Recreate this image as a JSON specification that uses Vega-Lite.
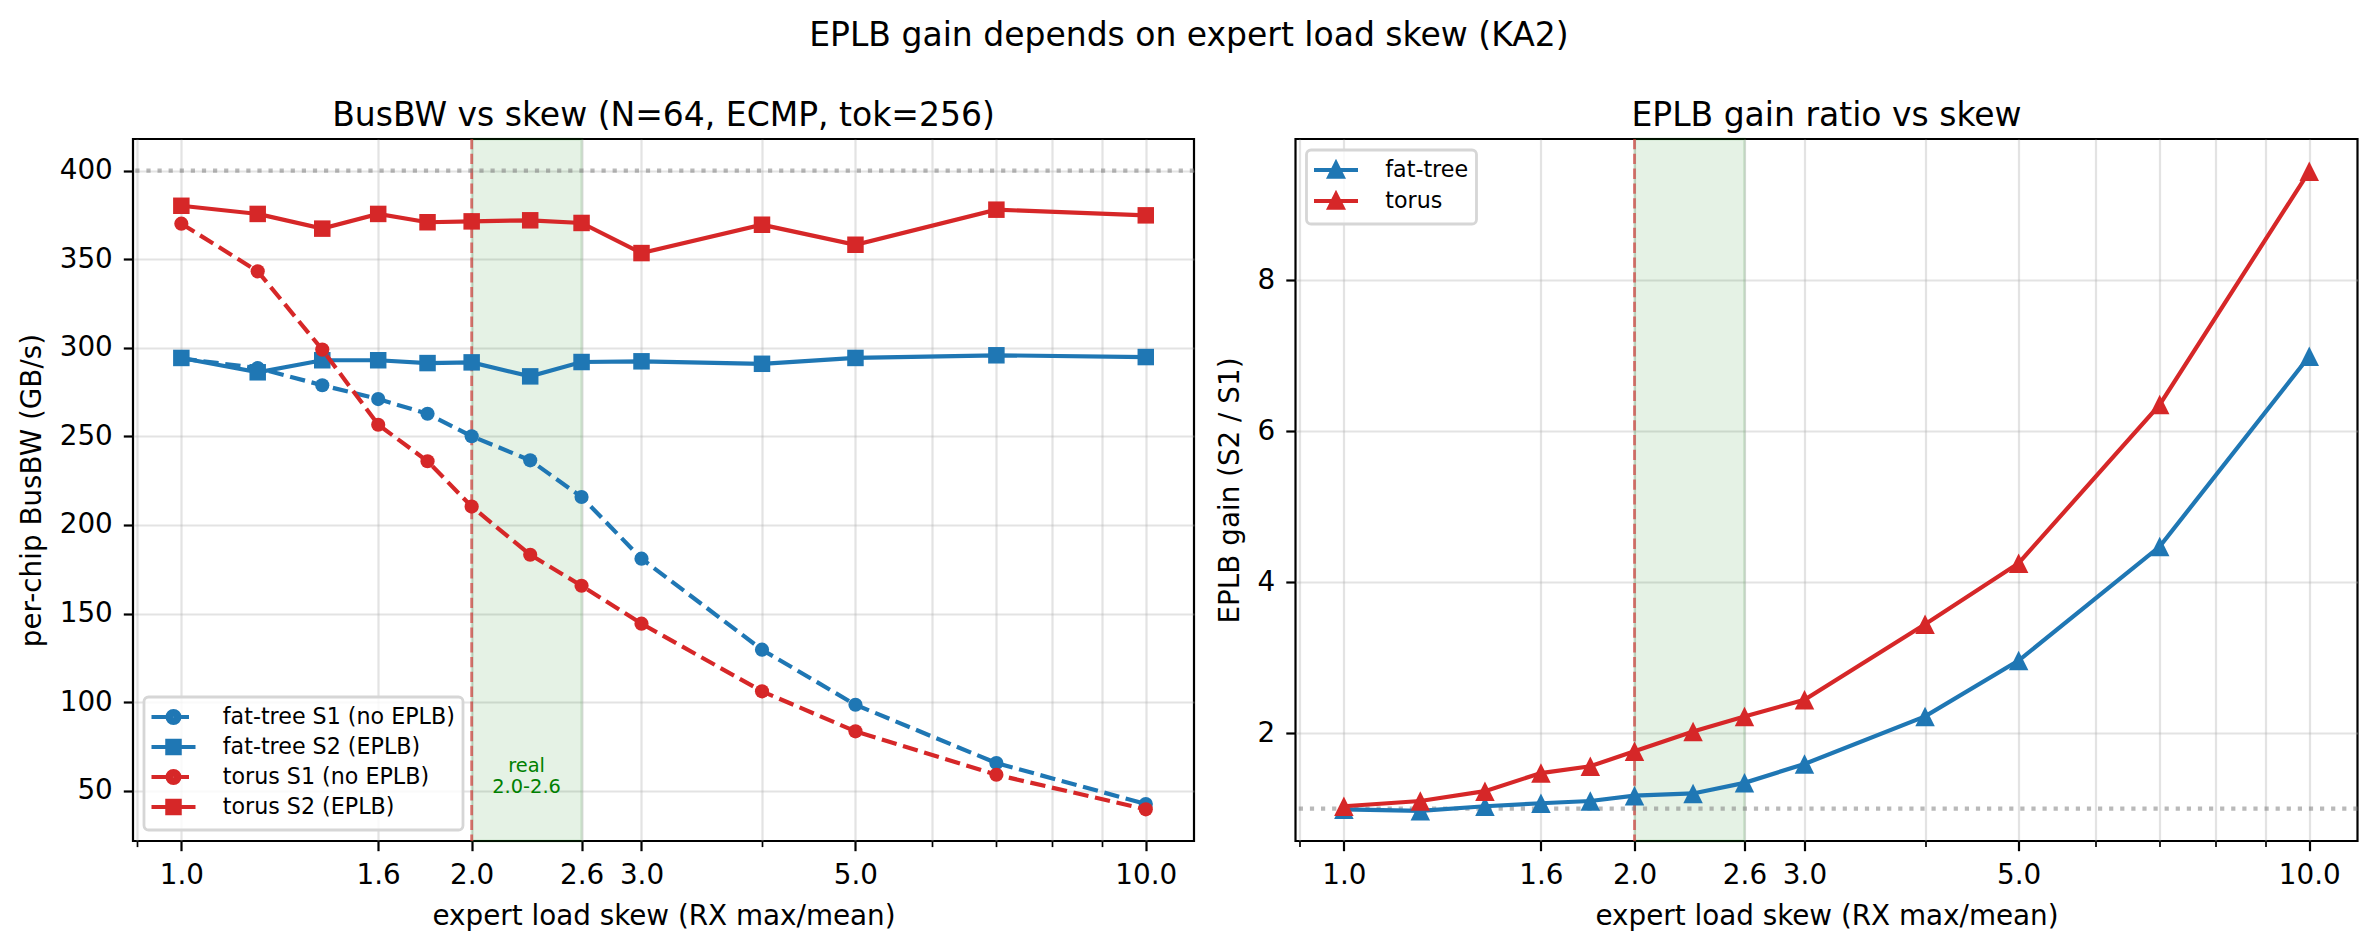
{
  "$schema": "https://vega.github.io/schema/vega-lite/v6.json",
  "padding": {"left": 17, "top": 20, "right": 0, "bottom": 0},
  "title": {"text": "EPLB gain depends on expert load skew (KA2)", "fontSize": 33, "offset": 45.5, "anchor": "middle"},
  "datasets": {
    "bw": [
      {"skew": 1.0, "series": "fat-tree S1 (no EPLB)", "bw": 294.0},
      {"skew": 1.2, "series": "fat-tree S1 (no EPLB)", "bw": 288.6},
      {"skew": 1.4, "series": "fat-tree S1 (no EPLB)", "bw": 278.9},
      {"skew": 1.6, "series": "fat-tree S1 (no EPLB)", "bw": 271.1},
      {"skew": 1.8, "series": "fat-tree S1 (no EPLB)", "bw": 262.8},
      {"skew": 2.0, "series": "fat-tree S1 (no EPLB)", "bw": 250.1},
      {"skew": 2.3, "series": "fat-tree S1 (no EPLB)", "bw": 236.5},
      {"skew": 2.6, "series": "fat-tree S1 (no EPLB)", "bw": 215.8},
      {"skew": 3.0, "series": "fat-tree S1 (no EPLB)", "bw": 181.0},
      {"skew": 4.0, "series": "fat-tree S1 (no EPLB)", "bw": 129.6},
      {"skew": 5.0, "series": "fat-tree S1 (no EPLB)", "bw": 98.5},
      {"skew": 7.0, "series": "fat-tree S1 (no EPLB)", "bw": 65.6},
      {"skew": 10.0, "series": "fat-tree S1 (no EPLB)", "bw": 42.5},
      {"skew": 1.0, "series": "fat-tree S2 (EPLB)", "bw": 294.3},
      {"skew": 1.2, "series": "fat-tree S2 (EPLB)", "bw": 286.2},
      {"skew": 1.4, "series": "fat-tree S2 (EPLB)", "bw": 293.0},
      {"skew": 1.6, "series": "fat-tree S2 (EPLB)", "bw": 293.0},
      {"skew": 1.8, "series": "fat-tree S2 (EPLB)", "bw": 291.4},
      {"skew": 2.0, "series": "fat-tree S2 (EPLB)", "bw": 291.8},
      {"skew": 2.3, "series": "fat-tree S2 (EPLB)", "bw": 283.9},
      {"skew": 2.6, "series": "fat-tree S2 (EPLB)", "bw": 292.0},
      {"skew": 3.0, "series": "fat-tree S2 (EPLB)", "bw": 292.4},
      {"skew": 4.0, "series": "fat-tree S2 (EPLB)", "bw": 291.0},
      {"skew": 5.0, "series": "fat-tree S2 (EPLB)", "bw": 294.3},
      {"skew": 7.0, "series": "fat-tree S2 (EPLB)", "bw": 295.8},
      {"skew": 10.0, "series": "fat-tree S2 (EPLB)", "bw": 294.8},
      {"skew": 1.0, "series": "torus S1 (no EPLB)", "bw": 370.1},
      {"skew": 1.2, "series": "torus S1 (no EPLB)", "bw": 343.2},
      {"skew": 1.4, "series": "torus S1 (no EPLB)", "bw": 299.0},
      {"skew": 1.6, "series": "torus S1 (no EPLB)", "bw": 256.6},
      {"skew": 1.8, "series": "torus S1 (no EPLB)", "bw": 236.0},
      {"skew": 2.0, "series": "torus S1 (no EPLB)", "bw": 210.4},
      {"skew": 2.3, "series": "torus S1 (no EPLB)", "bw": 183.2},
      {"skew": 2.6, "series": "torus S1 (no EPLB)", "bw": 165.7},
      {"skew": 3.0, "series": "torus S1 (no EPLB)", "bw": 144.3},
      {"skew": 4.0, "series": "torus S1 (no EPLB)", "bw": 106.1},
      {"skew": 5.0, "series": "torus S1 (no EPLB)", "bw": 83.5},
      {"skew": 7.0, "series": "torus S1 (no EPLB)", "bw": 59.0},
      {"skew": 10.0, "series": "torus S1 (no EPLB)", "bw": 39.5},
      {"skew": 1.0, "series": "torus S2 (EPLB)", "bw": 380.2},
      {"skew": 1.2, "series": "torus S2 (EPLB)", "bw": 375.6},
      {"skew": 1.4, "series": "torus S2 (EPLB)", "bw": 367.3},
      {"skew": 1.6, "series": "torus S2 (EPLB)", "bw": 375.6},
      {"skew": 1.8, "series": "torus S2 (EPLB)", "bw": 370.9},
      {"skew": 2.0, "series": "torus S2 (EPLB)", "bw": 371.4},
      {"skew": 2.3, "series": "torus S2 (EPLB)", "bw": 372.0},
      {"skew": 2.6, "series": "torus S2 (EPLB)", "bw": 370.5},
      {"skew": 3.0, "series": "torus S2 (EPLB)", "bw": 353.5},
      {"skew": 4.0, "series": "torus S2 (EPLB)", "bw": 369.5},
      {"skew": 5.0, "series": "torus S2 (EPLB)", "bw": 358.2},
      {"skew": 7.0, "series": "torus S2 (EPLB)", "bw": 378.0},
      {"skew": 10.0, "series": "torus S2 (EPLB)", "bw": 374.8}
    ],
    "gain": [
      {"skew": 1.0, "topo": "fat-tree", "gain": 0.99},
      {"skew": 1.2, "topo": "fat-tree", "gain": 0.97},
      {"skew": 1.4, "topo": "fat-tree", "gain": 1.03},
      {"skew": 1.6, "topo": "fat-tree", "gain": 1.07},
      {"skew": 1.8, "topo": "fat-tree", "gain": 1.10},
      {"skew": 2.0, "topo": "fat-tree", "gain": 1.17},
      {"skew": 2.3, "topo": "fat-tree", "gain": 1.20},
      {"skew": 2.6, "topo": "fat-tree", "gain": 1.34},
      {"skew": 3.0, "topo": "fat-tree", "gain": 1.59},
      {"skew": 4.0, "topo": "fat-tree", "gain": 2.22},
      {"skew": 5.0, "topo": "fat-tree", "gain": 2.96},
      {"skew": 7.0, "topo": "fat-tree", "gain": 4.47},
      {"skew": 10.0, "topo": "fat-tree", "gain": 6.99},
      {"skew": 1.0, "topo": "torus", "gain": 1.03},
      {"skew": 1.2, "topo": "torus", "gain": 1.10},
      {"skew": 1.4, "topo": "torus", "gain": 1.23},
      {"skew": 1.6, "topo": "torus", "gain": 1.47},
      {"skew": 1.8, "topo": "torus", "gain": 1.56},
      {"skew": 2.0, "topo": "torus", "gain": 1.76},
      {"skew": 2.3, "topo": "torus", "gain": 2.02},
      {"skew": 2.6, "topo": "torus", "gain": 2.22},
      {"skew": 3.0, "topo": "torus", "gain": 2.44},
      {"skew": 4.0, "topo": "torus", "gain": 3.44},
      {"skew": 5.0, "topo": "torus", "gain": 4.25},
      {"skew": 7.0, "topo": "torus", "gain": 6.35},
      {"skew": 10.0, "topo": "torus", "gain": 9.44}
    ]
  },
  "spacing": 16.5,
  "hconcat": [
    {
      "width": 1061,
      "height": 702,
      "title": {"text": "BusBW vs skew (N=64, ECMP, tok=256)", "fontSize": 33, "offset": 5, "frame": "group", "anchor": "middle"},
      "data": {"name": "bw"},
      "layer": [
        {
          "data": {"values": [{}]},
          "mark": {"type": "rect", "fill": "#008000", "fillOpacity": 0.1, "stroke": "#008000", "strokeOpacity": 0.1, "strokeWidth": 2.8},
          "encoding": {
            "x": {"datum": 2.0, "type": "quantitative", "scale": {"type": "log", "domain": [0.891, 11.22], "nice": false}},
            "x2": {"datum": 2.6}
          }
        },
        {
          "data": {"values": [{}]},
          "mark": {"type": "rule", "color": "#d62728", "opacity": 0.6, "strokeWidth": 2.8, "strokeDash": [10.3, 4.5]},
          "encoding": {
            "x": {"datum": 2.0, "type": "quantitative", "scale": {"type": "log", "domain": [0.891, 11.22], "nice": false}}
          }
        },
        {
          "data": {"values": [{}]},
          "mark": {"type": "rule", "color": "#808080", "opacity": 0.55, "strokeWidth": 4.2, "strokeDash": [4.2, 6.9]},
          "encoding": {
            "y": {"datum": 400, "type": "quantitative", "scale": {"domain": [21.6, 417.9], "nice": false, "zero": false}}
          }
        },
        {
          "transform": [{"filter": {"field": "series", "equal": "fat-tree S1 (no EPLB)"}}],
          "mark": {"type": "line", "color": "#1f77b4", "strokeWidth": 4.2, "strokeDash": [15.4, 6.7], "point": {"filled": true, "shape": "circle", "size": 201, "color": "#1f77b4"}},
          "encoding": {
            "x": {"field": "skew", "type": "quantitative", "scale": {"type": "log", "domain": [0.891, 11.22], "nice": false},
              "axis": {
                "title": "expert load skew (RX max/mean)",
                "values": [0.9, 1, 1.6, 2, 2.6, 3, 4, 5, 6, 7, 8, 9, 10],
                "labelExpr": "indexof([1,1.6,2,2.6,3,5,10], datum.value) >= 0 ? format(datum.value, '.1f') : ''",
                "tickSize": {"condition": {"test": "indexof([1,1.6,2,2.6,3,5,10], datum.value) < 0", "value": 5.6}, "value": 9.7},
                "tickWidth": {"condition": {"test": "indexof([1,1.6,2,2.6,3,5,10], datum.value) < 0", "value": 1.7}, "value": 2.2},
                "labelPadding": 11, "titlePadding": 12.5, "labelOverlap": false, "labelFlush": false, "labelBound": false
              }},
            "y": {"field": "bw", "type": "quantitative", "scale": {"domain": [21.6, 417.9], "nice": false, "zero": false},
              "axis": {"title": "per-chip BusBW (GB/s)", "values": [50, 100, 150, 200, 250, 300, 350, 400], "format": "d", "labelPadding": 11, "titlePadding": 13}}
          }
        },
        {
          "transform": [{"filter": {"field": "series", "equal": "fat-tree S2 (EPLB)"}}],
          "mark": {"type": "line", "color": "#1f77b4", "strokeWidth": 4.2, "point": {"filled": true, "shape": "square", "size": 272, "color": "#1f77b4"}},
          "encoding": {
            "x": {"field": "skew", "type": "quantitative", "scale": {"type": "log", "domain": [0.891, 11.22], "nice": false}},
            "y": {"field": "bw", "type": "quantitative", "scale": {"domain": [21.6, 417.9], "nice": false, "zero": false}}
          }
        },
        {
          "transform": [{"filter": {"field": "series", "equal": "torus S1 (no EPLB)"}}],
          "mark": {"type": "line", "color": "#d62728", "strokeWidth": 4.2, "strokeDash": [15.4, 6.7], "point": {"filled": true, "shape": "circle", "size": 201, "color": "#d62728"}},
          "encoding": {
            "x": {"field": "skew", "type": "quantitative", "scale": {"type": "log", "domain": [0.891, 11.22], "nice": false}},
            "y": {"field": "bw", "type": "quantitative", "scale": {"domain": [21.6, 417.9], "nice": false, "zero": false}}
          }
        },
        {
          "transform": [{"filter": {"field": "series", "equal": "torus S2 (EPLB)"}}],
          "mark": {"type": "line", "color": "#d62728", "strokeWidth": 4.2, "point": {"filled": true, "shape": "square", "size": 272, "color": "#d62728"}},
          "encoding": {
            "x": {"field": "skew", "type": "quantitative", "scale": {"type": "log", "domain": [0.891, 11.22], "nice": false}},
            "y": {"field": "bw", "type": "quantitative", "scale": {"domain": [21.6, 417.9], "nice": false, "zero": false}}
          }
        },
        {
          "mark": {"type": "point", "filled": false, "opacity": 0},
          "encoding": {
            "x": {"field": "skew", "type": "quantitative", "scale": {"type": "log", "domain": [0.891, 11.22], "nice": false}},
            "y": {"field": "bw", "type": "quantitative", "scale": {"domain": [21.6, 417.9], "nice": false, "zero": false}},
            "stroke": {"field": "series", "type": "nominal",
              "scale": {"domain": ["fat-tree S1 (no EPLB)", "fat-tree S2 (EPLB)", "torus S1 (no EPLB)", "torus S2 (EPLB)"], "range": ["#1f77b4", "#1f77b4", "#d62728", "#d62728"]},
              "legend": {"title": null, "orient": "bottom-left", "offset": 11, "symbolSize": 400, "symbolOffset": 9.5, "symbolStrokeWidth": 4.2, "labelFontSize": 22.2, "labelOffset": 36.8, "rowPadding": 0, "padding": 7.5, "fillColor": "rgba(255,255,255,0.8)", "strokeColor": "#d6d6d6", "cornerRadius": 4.5, "labelLimit": 0}},
            "shape": {"field": "series", "type": "nominal",
              "scale": {"domain": ["fat-tree S1 (no EPLB)", "fat-tree S2 (EPLB)", "torus S1 (no EPLB)", "torus S2 (EPLB)"],
                "range": [
                  "M-2.2,0H-0.66M0,0H1.55M0.59,0A0.59,0.59,0,1,1,-0.59,0A0.59,0.59,0,1,1,0.59,0ZM0.25,0A0.25,0.25,0,1,1,-0.25,0A0.25,0.25,0,1,1,0.25,0Z",
                  "M-2.2,0H2.2M-0.615,-0.615H0.615V0.615H-0.615ZM-0.25,-0.25H0.25V0.25H-0.25Z",
                  "M-2.2,0H-0.66M0,0H1.55M0.59,0A0.59,0.59,0,1,1,-0.59,0A0.59,0.59,0,1,1,0.59,0ZM0.25,0A0.25,0.25,0,1,1,-0.25,0A0.25,0.25,0,1,1,0.25,0Z",
                  "M-2.2,0H2.2M-0.615,-0.615H0.615V0.615H-0.615ZM-0.25,-0.25H0.25V0.25H-0.25Z"
                ]},
              "legend": {"title": null, "orient": "bottom-left", "offset": 11, "symbolSize": 400, "symbolOffset": 9.5, "symbolStrokeWidth": 4.2, "labelFontSize": 22.2, "labelOffset": 36.8, "rowPadding": 0, "padding": 7.5, "fillColor": "rgba(255,255,255,0.8)", "strokeColor": "#d6d6d6", "cornerRadius": 4.5, "labelLimit": 0}}
          }
        },
        {
          "data": {"values": [{}]},
          "mark": {"type": "text", "text": ["real", "2.0-2.6"], "color": "#008000", "fontSize": 19.4, "lineHeight": 21.6, "align": "center", "baseline": "middle"},
          "encoding": {
            "x": {"datum": 2.28, "type": "quantitative", "scale": {"type": "log", "domain": [0.891, 11.22], "nice": false}},
            "y": {"datum": 64.2, "type": "quantitative", "scale": {"domain": [21.6, 417.9], "nice": false, "zero": false}}
          }
        }
      ]
    },
    {
      "width": 1062,
      "height": 702,
      "title": {"text": "EPLB gain ratio vs skew", "fontSize": 33, "offset": 5, "frame": "group", "anchor": "middle"},
      "data": {"name": "gain"},
      "layer": [
        {
          "data": {"values": [{}]},
          "mark": {"type": "rect", "fill": "#008000", "fillOpacity": 0.1, "stroke": "#008000", "strokeOpacity": 0.1, "strokeWidth": 2.8},
          "encoding": {
            "x": {"datum": 2.0, "type": "quantitative", "scale": {"type": "log", "domain": [0.891, 11.22], "nice": false}},
            "x2": {"datum": 2.6}
          }
        },
        {
          "data": {"values": [{}]},
          "mark": {"type": "rule", "color": "#d62728", "opacity": 0.6, "strokeWidth": 2.8, "strokeDash": [10.3, 4.5]},
          "encoding": {
            "x": {"datum": 2.0, "type": "quantitative", "scale": {"type": "log", "domain": [0.891, 11.22], "nice": false}}
          }
        },
        {
          "data": {"values": [{}]},
          "mark": {"type": "rule", "color": "#808080", "opacity": 0.55, "strokeWidth": 4.2, "strokeDash": [4.2, 6.9]},
          "encoding": {
            "y": {"datum": 1, "type": "quantitative", "scale": {"domain": [0.57, 9.868], "nice": false, "zero": false}}
          }
        },
        {
          "transform": [{"filter": {"field": "topo", "equal": "fat-tree"}}],
          "mark": {"type": "line", "color": "#1f77b4", "strokeWidth": 4.2, "point": {"filled": true, "shape": "M0,-1L-1,1L1,1Z", "size": 380, "color": "#1f77b4"}},
          "encoding": {
            "x": {"field": "skew", "type": "quantitative", "scale": {"type": "log", "domain": [0.891, 11.22], "nice": false},
              "axis": {
                "title": "expert load skew (RX max/mean)",
                "values": [0.9, 1, 1.6, 2, 2.6, 3, 4, 5, 6, 7, 8, 9, 10],
                "labelExpr": "indexof([1,1.6,2,2.6,3,5,10], datum.value) >= 0 ? format(datum.value, '.1f') : ''",
                "tickSize": {"condition": {"test": "indexof([1,1.6,2,2.6,3,5,10], datum.value) < 0", "value": 5.6}, "value": 9.7},
                "tickWidth": {"condition": {"test": "indexof([1,1.6,2,2.6,3,5,10], datum.value) < 0", "value": 1.7}, "value": 2.2},
                "labelPadding": 11, "titlePadding": 12.5, "labelOverlap": false, "labelFlush": false, "labelBound": false
              }},
            "y": {"field": "gain", "type": "quantitative", "scale": {"domain": [0.57, 9.868], "nice": false, "zero": false},
              "axis": {"title": "EPLB gain (S2 / S1)", "values": [2, 4, 6, 8], "format": "d", "labelPadding": 11, "titlePadding": 13}}
          }
        },
        {
          "transform": [{"filter": {"field": "topo", "equal": "torus"}}],
          "mark": {"type": "line", "color": "#d62728", "strokeWidth": 4.2, "point": {"filled": true, "shape": "M0,-1L-1,1L1,1Z", "size": 380, "color": "#d62728"}},
          "encoding": {
            "x": {"field": "skew", "type": "quantitative", "scale": {"type": "log", "domain": [0.891, 11.22], "nice": false}},
            "y": {"field": "gain", "type": "quantitative", "scale": {"domain": [0.57, 9.868], "nice": false, "zero": false}}
          }
        },
        {
          "mark": {"type": "point", "filled": false, "opacity": 0},
          "encoding": {
            "x": {"field": "skew", "type": "quantitative", "scale": {"type": "log", "domain": [0.891, 11.22], "nice": false}},
            "y": {"field": "gain", "type": "quantitative", "scale": {"domain": [0.57, 9.868], "nice": false, "zero": false}},
            "stroke": {"field": "topo", "type": "nominal", "scale": {"domain": ["fat-tree", "torus"], "range": ["#1f77b4", "#d62728"]},
              "legend": {"title": null, "orient": "top-left", "offset": 11, "symbolSize": 400, "symbolOffset": 9.5, "symbolStrokeWidth": 4.2, "labelFontSize": 22.2, "labelOffset": 36.8, "rowPadding": 0, "padding": 7.5, "fillColor": "rgba(255,255,255,0.8)", "strokeColor": "#d6d6d6", "cornerRadius": 4.5, "labelLimit": 0}},
            "shape": {"field": "topo", "type": "nominal",
              "scale": {"domain": ["fat-tree", "torus"], "range": [
                "M-2.2,0H2.2M0,-0.66L-0.66,0.66H0.66ZM0,-0.194L-0.323,0.453H0.323Z",
                "M-2.2,0H2.2M0,-0.66L-0.66,0.66H0.66ZM0,-0.194L-0.323,0.453H0.323Z"
              ]},
              "legend": {"title": null, "orient": "top-left", "offset": 11, "symbolSize": 400, "symbolOffset": 9.5, "symbolStrokeWidth": 4.2, "labelFontSize": 22.2, "labelOffset": 36.8, "rowPadding": 0, "padding": 7.5, "fillColor": "rgba(255,255,255,0.8)", "strokeColor": "#d6d6d6", "cornerRadius": 4.5, "labelLimit": 0}}
          }
        }
      ]
    }
  ],
  "resolve": {
    "scale": {"x": "independent", "y": "independent", "stroke": "independent", "shape": "independent"},
    "legend": {"stroke": "independent", "shape": "independent"}
  },
  "config": {
    "font": "DejaVu Sans",
    "background": "#ffffff",
    "view": {"stroke": "#000000", "strokeWidth": 2.2},
    "axis": {
      "domain": false, "grid": true, "gridColor": "#b0b0b0", "gridOpacity": 0.35, "gridWidth": 2.2,
      "tickColor": "#000000", "tickWidth": 2.2, "tickSize": 9.7,
      "labelFont": "DejaVu Sans", "labelFontSize": 27.8, "labelColor": "#000000",
      "titleFont": "DejaVu Sans", "titleFontSize": 27.8, "titleFontWeight": "normal", "titleColor": "#000000"
    },
    "title": {"font": "DejaVu Sans", "fontWeight": "normal", "color": "#000000"},
    "legend": {"labelFont": "DejaVu Sans", "labelColor": "#000000", "strokeWidth": 2.8}
  }
}
